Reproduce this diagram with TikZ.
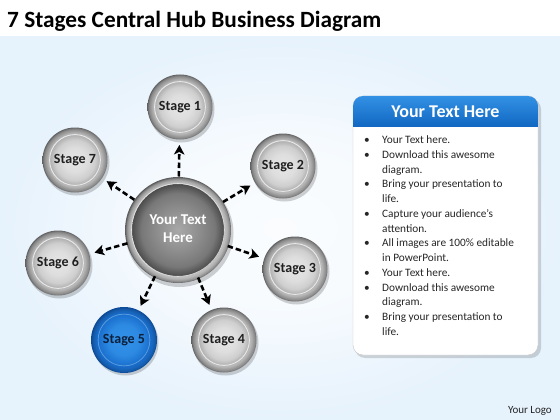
\documentclass[tikz,border=0pt]{standalone}
\usepackage{fontspec}
\setmainfont{Carlito}
\usetikzlibrary{arrows.meta,calc}
\definecolor{bgblue}{RGB}{230,242,252}
\definecolor{hdrA}{RGB}{50,145,228}
\definecolor{hdrB}{RGB}{18,104,194}
\definecolor{bRing}{RGB}{24,106,198}
\definecolor{bRingD}{RGB}{12,72,150}
\definecolor{bIn}{RGB}{50,145,232}
\definecolor{bInE}{RGB}{26,112,206}
\definecolor{navy}{RGB}{12,32,60}
\pgfdeclareradialshading{bgglow}{\pgfpoint{0bp}{0bp}}{color(0bp)=(white!80!bgblue); color(11bp)=(white!65!bgblue); color(25bp)=(bgblue); color(50bp)=(bgblue)}
\pgfdeclareradialshading{stagering}{\pgfpoint{0bp}{0bp}}{color(0bp)=(black!30); color(19bp)=(black!30); color(20.3bp)=(black!27); color(22.3bp)=(black!38); color(24.1bp)=(black!48); color(25bp)=(black!62); color(50bp)=(black!62)}
\pgfdeclareradialshading{stagein}{\pgfpoint{0bp}{0bp}}{color(0bp)=(black!10); color(12bp)=(black!13); color(20bp)=(black!19); color(25bp)=(black!31); color(50bp)=(black!31)}
\pgfdeclareradialshading{bluering}{\pgfpoint{0bp}{0bp}}{color(0bp)=(bRing); color(21bp)=(bRing); color(23.5bp)=(bRing!85!black); color(25bp)=(bRingD); color(50bp)=(bRingD)}
\pgfdeclareradialshading{bluein}{\pgfpoint{0bp}{0bp}}{color(0bp)=(bIn); color(15bp)=(bIn!80!bInE); color(25bp)=(bInE); color(50bp)=(bInE)}
\pgfdeclareradialshading{hubring}{\pgfpoint{0bp}{0bp}}{color(0bp)=(black!50); color(21.4bp)=(black!50); color(22bp)=(black!24); color(23.2bp)=(black!32); color(24.3bp)=(black!46); color(25bp)=(black!66); color(50bp)=(black!66)}
\pgfdeclareradialshading{hubin}{\pgfpoint{0bp}{0bp}}{color(0bp)=(black!34); color(11bp)=(black!44); color(20bp)=(black!53); color(25bp)=(black!70); color(50bp)=(black!70)}
\tikzset{
  stagetext/.style={circle, minimum size=64pt, inner sep=0pt, outer sep=0pt, font=\bfseries\fontsize{14}{16}\selectfont, text=black!88},
  hubtext/.style={circle, minimum size=104pt, inner sep=0pt, outer sep=0pt, align=center, font=\bfseries\fontsize{15}{18}\selectfont, text=white},
  arr/.style={draw=black, line width=2.6pt, dash pattern=on 5.5pt off 3pt, -{Stealth[length=9.5pt,width=10.5pt,inset=2.5pt]}, shorten <=0.5pt, shorten >=6pt},
  shadowc/.style={fill=black, opacity=0.18},
}
\newcommand{\greystage}[3]{%
  \fill[shadowc] ($(#2)+(1.5,2.5)$) circle (33);
  \path[shading=stagering] (#2) circle (32.5);
  \path[shading=stagein] (#2) circle (25);
  \draw[white, opacity=0.7, line width=0.9pt] (#2) circle (25.4);
  \node[stagetext] (#1) at (#2) {#3};
}
\begin{document}
\begin{tikzpicture}[x=1pt,y=-1pt]
\useasboundingbox (0,0) rectangle (560,420);
% background
\fill[white] (0,0) rectangle (560,420);
\path[shading=bgglow] (0,37) rectangle (560,420);
% title
\node[anchor=base west, inner sep=0pt, font=\bfseries\fontsize{23.3}{27}\selectfont] (title) at (7,28) {7 Stages Central Hub Business Diagram};
% stages
\greystage{s1}{180,107}{Stage 1}
\greystage{s2}{283,166}{Stage 2}
\greystage{s3}{295,269}{Stage 3}
\greystage{s4}{224,340}{Stage 4}
\greystage{s6}{58,263}{Stage 6}
\greystage{s7}{75,160}{Stage 7}
% blue stage 5
\fill[shadowc] (125.5,342.5) circle (33);
\path[shading=bluering] (124,340) circle (33);
\path[shading=bluein] (124,340) circle (25.5);
\draw[bIn!60!white, opacity=0.6, line width=0.8pt] (124,340) circle (25.9);
\node[stagetext, text=navy] (s5) at (124,340) {Stage 5};
% hub
\fill[shadowc] (179.5,233) circle (54);
\path[shading=hubring] (178,230) circle (53);
\path[shading=hubin] (178,230) circle (46);
\draw[white, opacity=0.6, line width=0.8pt] (178,230) circle (46.4);
\node[hubtext] (hub) at (178,229) {Your Text\\Here};
% connectors
\foreach \s in {s1,s2,s3,s4,s5,s6,s7}{\draw[arr] (hub) -- (\s);}
% text box
\fill[black, opacity=0.15, rounded corners=10pt] (355,99) rectangle (541,358);
\draw[black!22, fill=white, rounded corners=10pt] (353,96) rectangle (538,355);
\begin{scope}
  \clip[rounded corners=10pt] (353,96) rectangle (538,355);
  \path[top color=hdrA, bottom color=hdrB] (353,96) rectangle (538,126);
\end{scope}
\node[font=\bfseries\fontsize{18}{21}\selectfont, text=white] (hdr) at (445.5,112) {Your Text Here};
\node[anchor=north west, inner sep=0pt, font=\fontsize{11.3}{14.75}\selectfont, text=black!85] (list) at (364,133) {%
\begin{tabular}{@{}p{18pt}@{}l@{}}
•& Your Text here.\\
•& Download this awesome\\
 & diagram.\\
•& Bring your presentation to\\
 & life.\\
•& Capture your audience’s\\
 & attention.\\
•& All images are 100\% editable\\
 & in PowerPoint.\\
•& Your Text here.\\
•& Download this awesome\\
 & diagram.\\
•& Bring your presentation to\\
 & life.
\end{tabular}};
% logo
\node[anchor=east, inner sep=0pt, font=\fontsize{11}{13}\selectfont, text=black!85] (logo) at (552,411) {Your Logo};
\end{tikzpicture}
\end{document}
